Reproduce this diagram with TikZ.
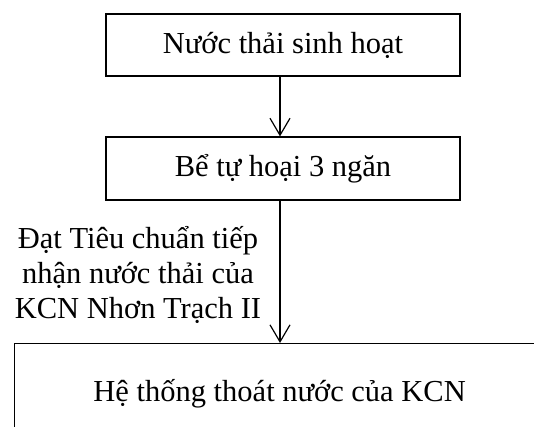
\documentclass[tikz,border=0pt]{standalone}
\usepackage{fontspec}
\setmainfont{Liberation Serif}
\usetikzlibrary{arrows.meta}
\begin{document}
\begin{tikzpicture}[x=1pt,y=-1pt,
  every node/.style={font=\fontsize{30.5}{35}\selectfont},
  boxnode/.style={draw,line width=1.2pt,inner sep=0pt},
  arr/.style={line width=1.2pt,-{Straight Barb[length=17pt,width=20pt,line width=1.2pt]}}]
\useasboundingbox (0,0) rectangle (534,426);
\clip (0,0) rectangle (534,426);
\node[boxnode,minimum width=354pt,minimum height=62pt] (b1) at (283,45) {Nước thải sinh hoạt};
\node[boxnode,minimum width=354pt,minimum height=63pt] (b2) at (283,168.5) {Bể tự hoại 3 ngăn};
\node[boxnode,anchor=north west,minimum width=530pt,text height=20pt,text depth=7pt,inner xsep=0pt,inner ysep=38pt] (sys) at (14,343) {Hệ thống thoát nước của KCN};
\node[align=center,anchor=base] (lbl) at (138,318) {Đạt Tiêu chuẩn tiếp\\nhận nước thải của\\KCN Nhơn Trạch II};
\coordinate (ax) at (280,0);
\draw[arr] (b1.south -| ax) -- (b2.north -| ax);
\draw[arr] (b2.south -| ax) -- (sys.north -| ax);
\end{tikzpicture}
\end{document}
